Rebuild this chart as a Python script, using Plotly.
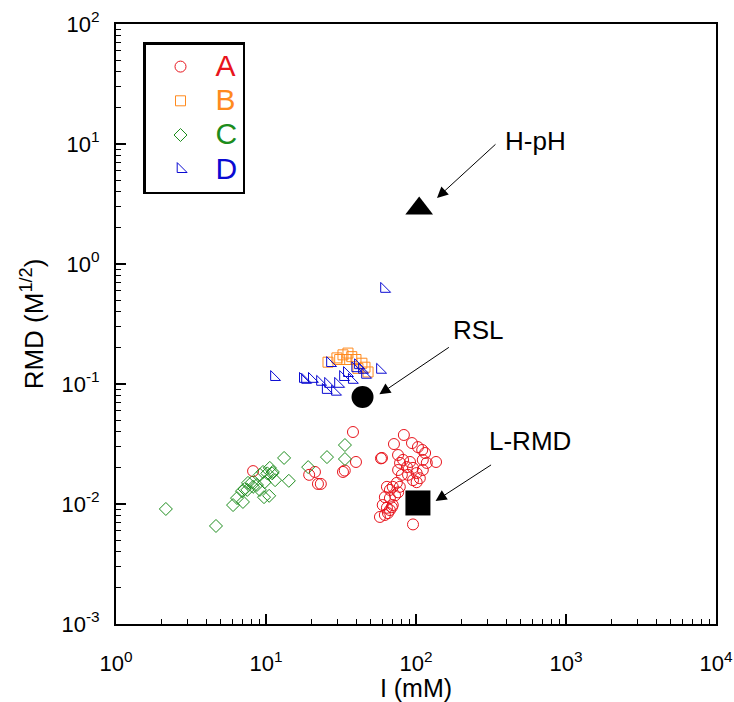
import plotly.graph_objects as go
import math

# ---- data (I in mM, RMD in M^1/2) ----
A_x = [8.2, 19.4, 21.2, 22.2, 23.2, 32.6, 33.5, 38.0, 39.8, 59.3, 58.4,
       83, 71.3, 94, 103, 110, 115, 136, 75.9, 78.3, 82, 87, 91.2, 95.5, 101, 106,
       111, 111, 118, 76, 80.5, 88.5, 95.5, 101, 74.5, 70, 67, 64, 78,
       62, 67, 72.5, 76, 60, 64, 67, 69, 65, 57.5, 62, 70, 95.5]
A_y = [0.0188, 0.0175, 0.0185, 0.0147, 0.0147, 0.0185, 0.019, 0.0398, 0.0224, 0.0242, 0.0240,
       0.0376, 0.0316, 0.0322, 0.0298, 0.0282, 0.0266, 0.0224, 0.0256, 0.022, 0.0233, 0.0203, 0.0224, 0.020, 0.0181, 0.0164,
       0.0233, 0.0192, 0.022, 0.0192, 0.0175, 0.0175, 0.0158, 0.0152, 0.015, 0.0139, 0.0131, 0.0139, 0.0139,
       0.0114, 0.0112, 0.0118, 0.0125, 0.0098, 0.0093, 0.0089, 0.0094, 0.0084, 0.0078, 0.0081, 0.0098, 0.00676]

B_x = [25.9, 29.7, 32.6, 35.2, 37.3, 39.8, 34.6, 43.6, 45.7, 47.9, 41.0, 31.0]
B_y = [0.152, 0.165, 0.175, 0.181, 0.169, 0.160, 0.160, 0.149, 0.138, 0.126, 0.135, 0.160]

C_x = [2.15, 4.64, 6.03, 6.41, 7.02, 6.92, 7.2, 7.59, 8.07, 8.2, 8.7, 9.12, 9.55, 10.2,
       10.6, 11.0, 11.1, 11.5, 9.8, 9.1, 9.7, 10.5, 7.5,
       13.2, 14.2, 19.1, 25.5, 33.6, 33.6]
C_y = [0.00909, 0.00656, 0.0098, 0.0112, 0.0104, 0.0128, 0.0133, 0.015, 0.0152, 0.0139, 0.0144, 0.0175, 0.0185, 0.018,
       0.020, 0.018, 0.0185, 0.0158, 0.0152, 0.0131, 0.0114, 0.0117, 0.0131,
       0.0242, 0.0156, 0.0203, 0.0246, 0.031, 0.0237]

D_x = [11.3, 17.6, 18.2, 20.2, 22.9, 25.0, 28.8, 26.7, 30.2, 32.6, 34.6, 37.3, 39.3,
       41.0, 43.6, 45.7, 57.5, 25.9, 61.2]
D_y = [0.114, 0.110, 0.108, 0.110, 0.104, 0.089, 0.086, 0.149, 0.100, 0.114, 0.123, 0.108, 0.135,
       0.143, 0.131, 0.119, 0.131, 0.100, 0.619]

special_names = ["H-pH", "RSL", "L-RMD"]
special_x = [105, 44, 103]
special_y = [2.9, 0.078, 0.0102]
special_symbols = ["triangle-up", "circle", "square"]
special_sizes = [24, 22, 25]

x_tickvals = [1, 10, 100, 1000, 10000]
x_ticktext = ["10<sup>0</sup>", "10<sup>1</sup>", "10<sup>2</sup>", "10<sup>3</sup>", "10<sup>4</sup>"]
y_tickvals = [0.001, 0.01, 0.1, 1, 10, 100]
y_ticktext = ["10<sup>-3</sup>", "10<sup>-2</sup>", "10<sup>-1</sup>", "10<sup>0</sup>", "10<sup>1</sup>", "10<sup>2</sup>"]

RED = "#e8141c"
ORANGE = "#ff8a1e"
GREEN = "#1c8c1c"
BLUE = "#0a0ad2"

def minor_vals(lo, hi):
    out = []
    for e in range(lo, hi):
        for m in range(2, 10):
            out.append(m * 10 ** e)
    return out

fig = go.Figure()

def add_series(xs, ys, name, color, symbol, size):
    fig.add_trace(go.Scatter(
        x=xs, y=ys, mode="markers",
        name=f"<span style='color:{color};font-size:30px'>{name}</span>",
        marker=dict(symbol=symbol, size=size, color=color, line=dict(color=color, width=1)),
    ))

add_series(A_x, A_y, "A", RED, "circle-open", 11)
add_series(B_x, B_y, "B", ORANGE, "square-open", 10)
add_series(C_x, C_y, "C", GREEN, "diamond-open", 10)
add_series(D_x, D_y, "D", BLUE, "triangle-sw-open", 11)

for nm, sx, sy, sym, sz in zip(special_names, special_x, special_y, special_symbols, special_sizes):
    fig.add_trace(go.Scatter(x=[sx], y=[sy], mode="markers", showlegend=False,
                             marker=dict(symbol=sym, size=sz, color="black")))

# arrows: head near marker, tail toward label (pixel offsets)
arrow_specs = [
    # (head x, head y, ax, ay, label, label dx, label dy)
    (138, 3.55, 60, -55, "H-pH", 99, -57),
    (57, 0.082, 71, -48, "RSL", 99, -64),
    (135, 0.0106, 57, -37, "L-RMD", 94, -60),
]
for hx, hy, ax, ay, label, lx, ly in arrow_specs:
    fig.add_annotation(x=math.log10(hx), y=math.log10(hy), xref="x", yref="y",
                       ax=ax, ay=ay, axref="pixel", ayref="pixel",
                       showarrow=True, arrowhead=2, arrowsize=2.2, arrowwidth=1,
                       arrowcolor="black", text="")
    fig.add_annotation(x=math.log10(hx), y=math.log10(hy), xref="x", yref="y",
                       xshift=lx, yshift=-ly, showarrow=False, text=label,
                       font=dict(size=26, color="black"))

axis_common = dict(
    type="log", showgrid=False, zeroline=False, automargin=False,
    showline=True, linecolor="black", linewidth=2, mirror=True,
    ticks="inside", ticklen=10, tickwidth=1.5, tickcolor="black",
    tickfont=dict(size=22, color="black"),
)

fig.update_xaxes(range=[0, 4], tickvals=x_tickvals, ticktext=x_ticktext,
                 minor=dict(tickvals=minor_vals(0, 4), ticks="inside", ticklen=5, tickwidth=1,
                            tickcolor="black", showgrid=False),
                 ticklabelstandoff=19,
                 title=dict(text="I (mM)", font=dict(size=25, color="black"), standoff=4),
                 **axis_common)
fig.update_yaxes(range=[-3, 2], tickvals=y_tickvals, ticktext=y_ticktext,
                 minor=dict(tickvals=minor_vals(-3, 2), ticks="inside", ticklen=5, tickwidth=1,
                            tickcolor="black", showgrid=False),
                 ticklabelstandoff=10,
                 title=dict(text="RMD (M<sup>1/2</sup>)", font=dict(size=26, color="black"), standoff=10),
                 **axis_common)

fig.update_layout(
    width=734, height=702,
    margin=dict(l=116, r=18, t=24, b=78),
    plot_bgcolor="white", paper_bgcolor="white",
    font=dict(family="Liberation Sans, Arial, sans-serif", color="black"),
    legend=dict(x=0.045, y=0.97, xanchor="left", yanchor="top",
                bordercolor="black", borderwidth=2.5, bgcolor="white",
                font=dict(size=24), itemwidth=60, tracegroupgap=0),
)

fig.write_html("out.html")
